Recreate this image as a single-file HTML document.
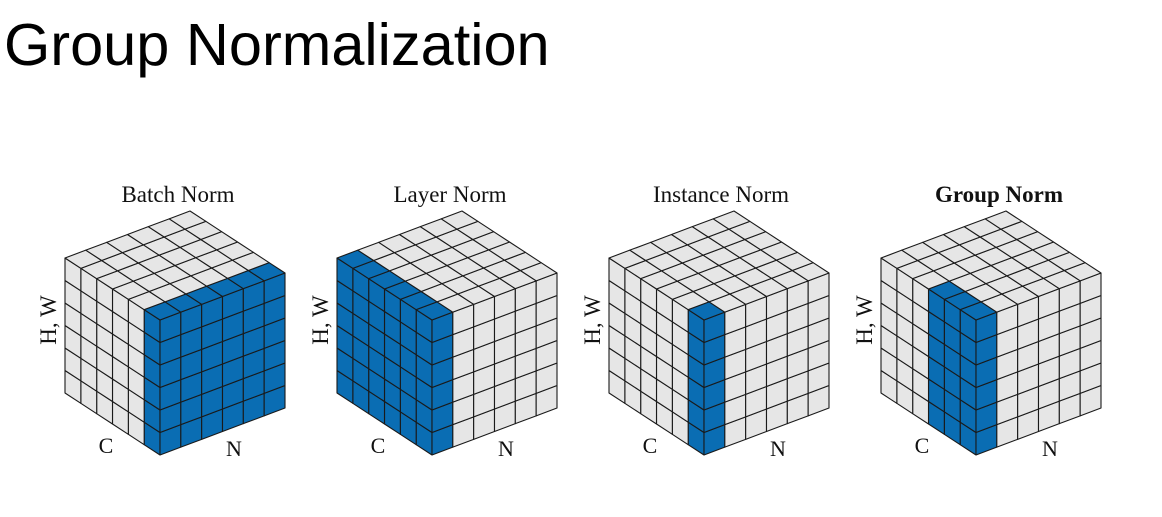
<!DOCTYPE html>
<html><head><meta charset="utf-8"><style>
html,body{margin:0;padding:0;background:#fff;width:1162px;height:517px;overflow:hidden}
svg{display:block}
</style></head><body>
<svg id="s" width="1162" height="517" xmlns="http://www.w3.org/2000/svg">
<text x="4" y="65" font-family="Liberation Sans, sans-serif" font-size="59.5" fill="#000">Group Normalization</text>
<g font-family="Liberation Serif, serif" font-size="23" fill="#111">
<text x="178" y="202" text-anchor="middle">Batch Norm</text>
<text x="450" y="202" text-anchor="middle">Layer Norm</text>
<text x="721" y="202" text-anchor="middle">Instance Norm</text>
<text x="999" y="202" text-anchor="middle" font-weight="bold">Group Norm</text>
</g>
<g font-family="Liberation Serif, serif" font-size="22" fill="#111">
<text x="106" y="453" text-anchor="middle">C</text><text x="234" y="456" text-anchor="middle">N</text>
<text x="378" y="453" text-anchor="middle">C</text><text x="506" y="456" text-anchor="middle">N</text>
<text x="650" y="453" text-anchor="middle">C</text><text x="778" y="456" text-anchor="middle">N</text>
<text x="922" y="453" text-anchor="middle">C</text><text x="1050" y="456" text-anchor="middle">N</text>
<text transform="translate(56,320) rotate(-90)" text-anchor="middle" font-size="23">H, W</text>
<text transform="translate(328,320) rotate(-90)" text-anchor="middle" font-size="23">H, W</text>
<text transform="translate(600,320) rotate(-90)" text-anchor="middle" font-size="23">H, W</text>
<text transform="translate(872,320) rotate(-90)" text-anchor="middle" font-size="23">H, W</text>
</g>
<g id="cubes" stroke="#1a1a1a" stroke-width="1.1" stroke-linejoin="round"></g>
</svg>
<script>
(function(){
var g=document.getElementById('cubes');
var a=[-95/6,-62/6], b=[125/6,-47/6], v=[0,-135/6];
var B='#0a6db3', G='#e6e6e6';
var preds=[
 function(i,j){return i==0;},
 function(i,j){return j==0;},
 function(i,j){return i==0&&j==0;},
 function(i,j){return j==0&&i<3;}
];
var xs=[160,432,704,976], y0=455;
var out='';
function P(x,y,u,w){
 return [x,y, x+u[0],y+u[1], x+u[0]+w[0],y+u[1]+w[1], x+w[0],y+w[1]].map(function(n){return n.toFixed(2)}).join(' ');
}
for(var c=0;c<4;c++){
 var x0=xs[c], f=preds[c];
 for(var i=0;i<6;i++)for(var k=0;k<6;k++){
  var x=x0+i*a[0], y=y0+i*a[1]+k*v[1];
  out+='<polygon points="'+P(x,y,a,v)+'" fill="'+(f(i,0)?B:G)+'"/>';
 }
 for(var j=0;j<6;j++)for(var k=0;k<6;k++){
  var x=x0+j*b[0], y=y0+j*b[1]+k*v[1];
  out+='<polygon points="'+P(x,y,b,v)+'" fill="'+(f(0,j)?B:G)+'"/>';
 }
 for(var i=0;i<6;i++)for(var j=0;j<6;j++){
  var x=x0+i*a[0]+j*b[0], y=y0+6*v[1]+i*a[1]+j*b[1];
  out+='<polygon points="'+P(x,y,a,b)+'" fill="'+(f(i,j)?B:G)+'"/>';
 }
}
g.innerHTML=out;
})();
</script>
</body></html>
